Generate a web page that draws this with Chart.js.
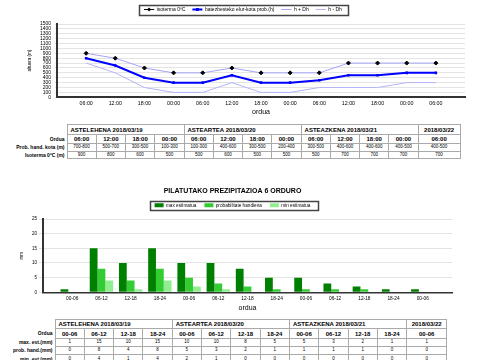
<!DOCTYPE html>
<html><head><meta charset="utf-8">
<script src="https://cdn.jsdelivr.net/npm/chart.js@4/dist/chart.umd.min.js"></script>
<style>
html,body{margin:0;padding:0;background:#fff;width:480px;height:360px;overflow:hidden;font-family:"Liberation Sans",Arial,sans-serif;}
#c1{position:absolute;left:0;top:0;}
#c2{position:absolute;left:0;top:178px;}
table{position:absolute;border-collapse:collapse;table-layout:fixed;color:#000;font-family:"Liberation Sans",Arial,sans-serif;}
td{border:1px solid #aaa;padding:0;text-align:center;white-space:nowrap;overflow:hidden;line-height:1;font-size:4.5px;}
td.lab{border:none;text-align:right;font-weight:bold;font-size:5px;padding-right:2px;}
td.day{font-weight:bold;font-size:6px;text-align:left;padding-left:3px;}
td.dayr{font-weight:bold;font-size:6px;text-align:center;}
td.hd{font-weight:bold;font-size:6px;}
</style>
</head><body>
<canvas id="c1" width="480" height="120"></canvas>
<table id="t1" style="left:0;top:124px;"></table>
<canvas id="c2" width="480" height="136"></canvas>
<table id="t2" style="left:0;top:319px;"></table>
<script>
// ---- data: top chart (snow level) ----
const hours = ['06:00','12:00','18:00','00:00','06:00','12:00','18:00','00:00','06:00','12:00','18:00','00:00','06:00'];
const isoterma = [900,800,600,500,500,600,500,500,500,700,700,700,700];
const snowLevel = [800,650,400,300,300,450,300,300,350,450,450,500,500];
const snowHigh = [900,800,600,500,500,600,500,500,500,700,700,700,700];
const snowLow = [700,500,200,100,100,300,100,100,200,200,200,300,300];
const snowRange = ['700-800','500-700','300-500','100-300','100-300','400-600','300-500','200-400','300-500','400-600','400-600','400-500','400-500'];
// ---- data: days ----
const days = ['ASTELEHENA 2018/03/19','ASTEARTEA 2018/03/20','ASTEAZKENA 2018/03/21','2018/03/22'];
const daySpans = [4,4,4,1];
// ---- data: bottom chart (precipitation) ----
const periods = ['00-06','06-12','12-18','18-24','00-06','06-12','12-18','18-24','00-06','06-12','12-18','18-24','00-06'];
const precipMax = [1,15,10,15,10,10,8,5,5,3,2,1,1];
const precipProb = [0,8,4,8,5,3,2,1,1,1,1,0,0];
const precipMin = [0,4,1,4,2,1,0,0,0,0,0,0,0];

const FONT = '"Liberation Sans", Arial, sans-serif';
Chart.defaults.font.family = FONT;
Chart.defaults.color = '#000';

const padL = a => ['', ...a, ''];
const padD = a => [null, ...a, null];
const plain = v => String(v);

function legendFit(h){
  return {id:'legendFit', beforeInit(chart){
    const orig = chart.legend.fit;
    chart.legend.fit = function(){ orig.call(this); this.height = h; };
  }};
}
function legendBorder(l, r, h, markers){
  return {id:'legendBorder', afterDraw(chart){
    const lg = chart.legend, hb = lg.legendHitBoxes, ctx = chart.ctx;
    if (!hb || !hb.length) return;
    const left = Math.min(...hb.map(b=>b.left));
    const right = Math.max(...hb.map(b=>b.left+b.width));
    const cy = hb[0].top + hb[0].height/2;
    ctx.save();
    ctx.strokeStyle = '#444'; ctx.lineWidth = 1.5;
    ctx.strokeRect(Math.round(left - l)+0.5, Math.round(cy - h/2)+0.5, Math.round(right - left + l + r), Math.round(h));
    if (markers) {
      markers.forEach((m,i)=>{
        if (!m) return;
        const x = hb[i].left + lg.options.labels.boxWidth/2;
        ctx.fillStyle = m.color;
        ctx.beginPath();
        if (m.style === 'diamond') { ctx.moveTo(x, cy-2); ctx.lineTo(x+2, cy); ctx.lineTo(x, cy+2); ctx.lineTo(x-2, cy); ctx.closePath(); }
        else { ctx.rect(x-1.5, cy-1.5, 3, 3); }
        ctx.fill();
      });
    }
    ctx.restore();
  }};
}

// ---- top chart ----
new Chart(document.getElementById('c1'), {
  type:'line',
  data:{
    labels: padL(hours),
    datasets:[
      {label:'isoterma 0ºC', data:padD(isoterma), showLine:false, borderColor:'#000', borderWidth:1,
       pointStyle:'rectRot', pointRadius:2, pointBackgroundColor:'#000', pointBorderColor:'#000', pointBorderWidth:1},
      {label:'batezbesteko elur-kota prob.(h)', data:padD(snowLevel), borderColor:'#0000ff', borderWidth:2,
       pointStyle:'rect', pointRadius:1.8, pointBackgroundColor:'#0000ff', pointBorderColor:'#0000ff', pointBorderWidth:0},
      {label:'h + Dh', data:padD(snowHigh), borderColor:'#a4a4f8', borderWidth:1, pointRadius:0},
      {label:'h - Dh', data:padD(snowLow), borderColor:'#b4b4fa', borderWidth:1, pointRadius:0}
    ]
  },
  options:{
    responsive:false, animation:false, devicePixelRatio:1,
    layout:{padding:{left:21,right:15,top:0,bottom:0}},
    plugins:{
      legend:{position:'top', labels:{font:{size:5}, color:'#000', boxWidth:10, boxHeight:0, padding:7}},
      tooltip:{enabled:false}
    },
    scales:{
      x:{offset:false, grid:{display:false, drawTicks:false}, border:{color:'#333', width:2},
         ticks:{font:{size:5.3}, color:'#000', padding:3, autoSkip:false, maxRotation:0},
         title:{display:true, text:'ordua', font:{size:7}, color:'#000', padding:{top:0,bottom:3.3}},
         afterFit(s){ s.height = 22.7; }},
      y:{min:0, max:1500, ticks:{stepSize:100, font:{size:5}, color:'#000', padding:4, autoSkip:false, callback:plain},
         grid:{color:'#e4e4e4', tickLength:2, lineWidth:1}, border:{color:'#333', width:2},
         title:{display:true, text:'altuera (m)', font:{size:4.5}, color:'#000', padding:{top:6.3,bottom:0}},
         afterFit(s){ s.width = 36; }}
    }
  },
  plugins:[legendFit(24), legendBorder(5, 6, 10, [{style:'diamond', color:'#000'}, {style:'square', color:'#0000ff'}])]
});

// ---- bottom chart ----
new Chart(document.getElementById('c2'), {
  type:'bar',
  data:{
    labels: padL(periods),
    datasets:[
      {label:'max estimatua', data:padD(precipMax), backgroundColor:'#008000'},
      {label:'probabilitate handiena', data:padD(precipProb), backgroundColor:'#33cc33'},
      {label:'min estimatua', data:padD(precipMin), backgroundColor:'#90ee90'}
    ]
  },
  options:{
    responsive:false, animation:false, devicePixelRatio:1,
    layout:{padding:{left:13,right:28,top:0,bottom:0}},
    datasets:{bar:{categoryPercentage:0.8, barPercentage:1}},
    plugins:{
      title:{display:true, text:'PILATUTAKO PREZIPITAZIOA 6 ORDURO', font:{size:7, weight:'bold'}, color:'#000', padding:{top:8.5,bottom:0}},
      legend:{position:'top', labels:{font:{size:4.7}, color:'#000', boxWidth:9, boxHeight:4, padding:8}},
      tooltip:{enabled:false}
    },
    scales:{
      x:{offset:false, grid:{display:false, drawTicks:false}, border:{color:'#333', width:1.5},
         ticks:{font:{size:4.8}, color:'#000', padding:3, autoSkip:false, maxRotation:0},
         title:{display:true, text:'ordua', font:{size:7}, color:'#000', padding:{top:0,bottom:1.8}},
         afterFit(s){ s.height = 21.7; }},
      y:{min:0, max:25, ticks:{stepSize:5, font:{size:4.5}, color:'#000', padding:2, callback:plain},
         grid:{color:'#e4e4e4', tickLength:4, lineWidth:1}, border:{color:'#333', width:2},
         title:{display:true, text:'mm', font:{size:4.5}, color:'#000', padding:{top:6,bottom:0}},
         afterFit(s){ s.width = 30; }}
    }
  },
  plugins:[legendFit(24.1), legendBorder(5, 7, 8.5, null)]
});

// ---- tables ----
function buildTable(id, labW, colW, lastW, rows, heights){
  const t = document.getElementById(id);
  let html = '<colgroup><col style="width:'+labW+'px">';
  for (let i=0;i<12;i++) html += '<col style="width:'+colW+'px">';
  html += '<col style="width:'+lastW+'px"></colgroup>';
  html += '<tr style="height:'+heights[0]+'px"><td class="lab"></td>';
  days.forEach((d,i)=>{
    html += '<td class="'+(i===days.length-1?'dayr':'day')+'" colspan="'+daySpans[i]+'">'+d+'</td>';
  });
  html += '</tr>';
  rows.forEach((r,k)=>{
    html += '<tr style="height:'+heights[k+1]+'px"><td class="lab">'+r.label+'</td>';
    r.values.forEach(v=>{ html += '<td'+(r.cls?' class="'+r.cls+'"':'')+'>'+v+'</td>'; });
    html += '</tr>';
  });
  t.innerHTML = html;
  t.style.width = (labW + 12*colW + lastW)+'px';
}
buildTable('t1', 67, 29.25, 42, [
  {label:'Ordua', values:hours, cls:'hd'},
  {label:'Prob. hand. kota (m)', values:snowRange},
  {label:'Isoterma 0ºC (m)', values:isoterma}
], [10,9,8,7]);
buildTable('t2', 55, 29.3, 40, [
  {label:'Ordua', values:periods, cls:'hd'},
  {label:'max. est.(mm)', values:precipMax},
  {label:'prob. hand.(mm)', values:precipProb},
  {label:'min. est.(mm)', values:precipMin}
], [9,10,8,8,9]);
</script>
</body></html>
